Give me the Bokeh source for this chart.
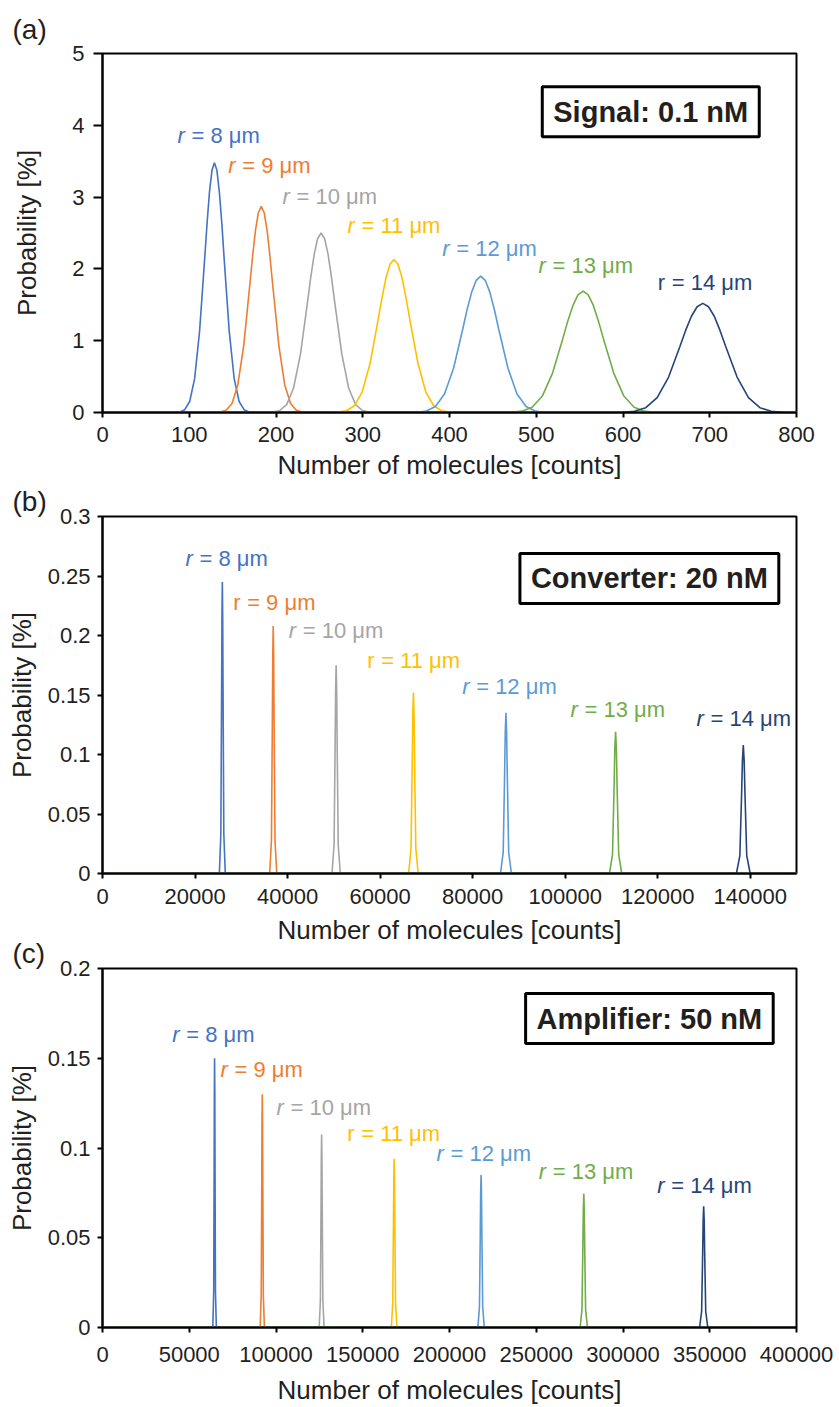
from bokeh.plotting import figure
from bokeh.layouts import column
from bokeh.models import Range1d, FixedTicker, Label
from bokeh.embed import file_html
from bokeh.resources import INLINE

FONT = "Liberation Sans"
TEXT = "#231f20"

RADII = ["8", "9", "10", "11", "12", "13", "14"]
COLORS = ["#4472C4", "#ED7D31", "#A5A5A5", "#FFC000", "#5B9BD5", "#70AD47", "#264478"]

# ---------------- Panel (a): Signal 0.1 nM ----------------
SIG_X_R8 = [10, 83.4, 89.1, 94.8, 100.5, 106.2, 111.9, 117.6, 120.5, 123.3, 126.2, 129, 131.9, 134.7, 137.6, 140.4, 146.1, 151.8, 157.5, 163.2, 168.9, 174.6, 800]
SIG_Y_R8 = [0, 0.001, 0.008, 0.039, 0.153, 0.471, 1.130, 2.111, 2.627, 3.071, 3.373, 3.48, 3.373, 3.071, 2.627, 2.111, 1.130, 0.471, 0.153, 0.039, 0.008, 0.001, 0]
SIG_X_R9 = [10, 129, 135.8, 142.5, 149.3, 156, 162.8, 169.5, 172.9, 176.3, 179.6, 183, 186.4, 189.8, 193.1, 196.5, 203.3, 210, 216.8, 223.5, 230.3, 237, 800]
SIG_Y_R9 = [0, 0.001, 0.006, 0.032, 0.126, 0.388, 0.932, 1.741, 2.166, 2.533, 2.782, 2.87, 2.782, 2.533, 2.166, 1.741, 0.932, 0.388, 0.126, 0.032, 0.006, 0.001, 0]
SIG_X_R10 = [10, 188.4, 196.4, 204.3, 212.3, 220.2, 228.2, 236.1, 240.1, 244.1, 248, 252, 256, 260, 263.9, 267.9, 275.9, 283.8, 291.8, 299.7, 307.7, 315.6, 800]
SIG_Y_R10 = [0, 0.001, 0.006, 0.028, 0.110, 0.338, 0.812, 1.516, 1.887, 2.206, 2.423, 2.50, 2.423, 2.206, 1.887, 1.516, 0.812, 0.338, 0.110, 0.028, 0.006, 0.001, 0]
SIG_X_R11 = [10, 262.8, 272, 281.1, 290.3, 299.4, 308.6, 317.7, 322.3, 326.9, 331.4, 336, 340.6, 345.2, 349.7, 354.3, 363.5, 372.6, 381.8, 390.9, 400.1, 409.2, 800]
SIG_Y_R11 = [0, 0.001, 0.005, 0.024, 0.094, 0.288, 0.692, 1.292, 1.608, 1.880, 2.064, 2.13, 2.064, 1.880, 1.608, 1.292, 0.692, 0.288, 0.094, 0.024, 0.005, 0.001, 0]
SIG_X_R12 = [10, 352.4, 362.9, 373.3, 383.8, 394.2, 404.7, 415.1, 420.3, 425.6, 430.8, 436, 441.2, 446.5, 451.7, 456.9, 467.4, 477.8, 488.3, 498.7, 509.2, 519.6, 800]
SIG_Y_R12 = [0, 0.001, 0.004, 0.021, 0.083, 0.257, 0.617, 1.152, 1.434, 1.677, 1.841, 1.90, 1.841, 1.677, 1.434, 1.152, 0.617, 0.257, 0.083, 0.021, 0.004, 0.001, 0]
SIG_X_R13 = [10, 460, 471.8, 483.5, 495.3, 507, 518.8, 530.5, 536.4, 542.3, 548.1, 554, 559.9, 565.8, 571.6, 577.5, 589.3, 601, 612.8, 624.5, 636.3, 648, 800]
SIG_Y_R13 = [0, 0.001, 0.004, 0.019, 0.074, 0.229, 0.549, 1.025, 1.276, 1.491, 1.638, 1.69, 1.638, 1.491, 1.276, 1.025, 0.549, 0.229, 0.074, 0.019, 0.004, 0.001, 0]
SIG_X_R14 = [10, 586.8, 600, 613.1, 626.3, 639.4, 652.6, 665.7, 672.3, 678.9, 685.4, 692, 698.6, 705.2, 711.7, 718.3, 731.5, 744.6, 757.8, 770.9, 784.1, 797.2, 800]
SIG_Y_R14 = [0, 0.000, 0.003, 0.017, 0.067, 0.206, 0.494, 0.922, 1.147, 1.341, 1.473, 1.52, 1.473, 1.341, 1.147, 0.922, 0.494, 0.206, 0.067, 0.017, 0.003, 0.000, 0]

SIG_X_TICKS = [0, 100, 200, 300, 400, 500, 600, 700, 800]
SIG_X_LABELS = ["0", "100", "200", "300", "400", "500", "600", "700", "800"]
SIG_Y_TICKS = [0, 1, 2, 3, 4, 5]
SIG_Y_LABELS = ["0", "1", "2", "3", "4", "5"]
SIG_LABEL_X = [86.5, 145, 207.5, 282.4, 391.6, 502.6, 640]
SIG_LABEL_Y = [3.86, 3.44, 3.01, 2.60, 2.28, 2.05, 1.81]
SIG_ITALIC = [True, True, True, True, True, True, False]

# ---------------- Panel (b): Converter 20 nM ----------------
CON_X_R8 = [0, 25256, 25578, 25739, 25820, 25900, 25980, 26061, 26222, 26544, 150000]
CON_Y_R8 = [0, 0, 0.033, 0.149, 0.216, 0.245, 0.216, 0.149, 0.033, 0, 0]
CON_X_R9 = [0, 36132, 36516, 36708, 36804, 36900, 36996, 37092, 37284, 37668, 150000]
CON_Y_R9 = [0, 0, 0.028, 0.126, 0.184, 0.208, 0.184, 0.126, 0.028, 0, 0]
CON_X_R10 = [0, 49600, 50050, 50275, 50388, 50500, 50612, 50725, 50950, 51400, 150000]
CON_Y_R10 = [0, 0, 0.024, 0.106, 0.154, 0.175, 0.154, 0.106, 0.024, 0, 0]
CON_X_R11 = [0, 66164, 66682, 66941, 67070, 67200, 67330, 67459, 67718, 68236, 150000]
CON_Y_R11 = [0, 0, 0.021, 0.092, 0.134, 0.152, 0.134, 0.092, 0.021, 0, 0]
CON_X_R12 = [0, 86020, 86610, 86905, 87052, 87200, 87348, 87495, 87790, 88380, 150000]
CON_Y_R12 = [0, 0, 0.018, 0.082, 0.119, 0.135, 0.119, 0.082, 0.018, 0, 0]
CON_X_R13 = [0, 109568, 110234, 110567, 110734, 110900, 111066, 111233, 111566, 112232, 150000]
CON_Y_R13 = [0, 0, 0.016, 0.072, 0.105, 0.119, 0.105, 0.072, 0.016, 0, 0]
CON_X_R14 = [0, 137012, 137756, 138128, 138314, 138500, 138686, 138872, 139244, 139988, 150000]
CON_Y_R14 = [0, 0, 0.015, 0.066, 0.095, 0.108, 0.095, 0.066, 0.015, 0, 0]

CON_X_TICKS = [0, 20000, 40000, 60000, 80000, 100000, 120000, 140000]
CON_X_LABELS = ["0", "20000", "40000", "60000", "80000", "100000", "120000", "140000"]
CON_Y_TICKS = [0, 0.05, 0.1, 0.15, 0.2, 0.25, 0.3]
CON_Y_LABELS = ["0", "0.05", "0.1", "0.15", "0.2", "0.25", "0.3"]
CON_LABEL_X = [17940, 28240, 40270, 57200, 77740, 101150, 128380]
CON_LABEL_Y = [0.265, 0.228, 0.204, 0.179, 0.157, 0.138, 0.130]
CON_ITALIC = [True, False, True, False, True, True, True]

# ---------------- Panel (c): Amplifier 50 nM ----------------
AMP_X_R8 = [0, 63584, 64092, 64346, 64473, 64600, 64727, 64854, 65108, 65616, 376000]
AMP_Y_R8 = [0, 0, 0.020, 0.091, 0.132, 0.150, 0.132, 0.091, 0.020, 0, 0]
AMP_X_R9 = [0, 90888, 91494, 91797, 91948, 92100, 92252, 92403, 92706, 93312, 376000]
AMP_Y_R9 = [0, 0, 0.018, 0.079, 0.115, 0.130, 0.115, 0.079, 0.018, 0, 0]
AMP_X_R10 = [0, 124880, 125590, 125945, 126122, 126300, 126478, 126655, 127010, 127720, 376000]
AMP_Y_R10 = [0, 0, 0.015, 0.065, 0.095, 0.1075, 0.095, 0.065, 0.015, 0, 0]
AMP_X_R11 = [0, 166460, 167280, 167690, 167895, 168100, 168305, 168510, 168920, 169740, 376000]
AMP_Y_R11 = [0, 0, 0.013, 0.057, 0.083, 0.094, 0.083, 0.057, 0.013, 0, 0]
AMP_X_R12 = [0, 216332, 217266, 217733, 217966, 218200, 218434, 218667, 219134, 220068, 376000]
AMP_Y_R12 = [0, 0, 0.0115, 0.0516, 0.075, 0.085, 0.075, 0.0516, 0.0115, 0, 0]
AMP_X_R13 = [0, 275296, 276348, 276874, 277137, 277400, 277663, 277926, 278452, 279504, 376000]
AMP_Y_R13 = [0, 0, 0.0101, 0.0452, 0.0658, 0.0746, 0.0658, 0.0452, 0.0101, 0, 0]
AMP_X_R14 = [0, 344148, 345324, 345912, 346206, 346500, 346794, 347088, 347676, 348852, 376000]
AMP_Y_R14 = [0, 0, 0.0091, 0.041, 0.0597, 0.0676, 0.0597, 0.041, 0.0091, 0, 0]

AMP_X_TICKS = [0, 50000, 100000, 150000, 200000, 250000, 300000, 350000, 400000]
AMP_X_LABELS = ["0", "50000", "100000", "150000", "200000", "250000", "300000", "350000", "400000"]
AMP_Y_TICKS = [0, 0.05, 0.1, 0.15, 0.2]
AMP_Y_LABELS = ["0", "0.05", "0.1", "0.15", "0.2"]
AMP_LABEL_X = [40170, 68010, 100290, 141030, 192500, 251470, 319710]
AMP_LABEL_Y = [0.163, 0.144, 0.1225, 0.108, 0.097, 0.087, 0.079]
AMP_ITALIC = [True, True, True, False, True, True, True]

X_TITLE = "Number of molecules [counts]"
Y_TITLE = "Probability [%]"

LEFT, RIGHT, FRAME_W = 102, 37, 694


def make_panel(tag, xmax, ymax, xt, xl, yt, yl, series, lx, ly, lit, box_text, bx, by,
               top, bottom, frame_h, ytick_out, ylab_so, yaxis_so, xlab_so, xaxis_so, title_so):
    p = figure(title=tag, width=LEFT + FRAME_W + RIGHT, height=top + frame_h + bottom,
               x_range=Range1d(0, xmax), y_range=Range1d(0, ymax),
               output_backend="svg", toolbar_location=None,
               min_border_left=LEFT, min_border_right=RIGHT,
               min_border_top=top, min_border_bottom=bottom)
    p.title.align = "left"
    p.title.offset = -90
    p.title.standoff = title_so
    p.title.text_font = FONT
    p.title.text_font_size = "28px"
    p.title.text_font_style = "normal"
    p.title.text_color = TEXT

    p.grid.visible = False
    p.outline_line_color = "black"
    p.outline_line_width = 2
    p.outline_line_alpha = 1
    p.background_fill_color = "white"

    for ax in (p.xaxis[0], p.yaxis[0]):
        ax.axis_line_width = 2
        ax.axis_line_color = "black"
        ax.major_tick_line_width = 2
        ax.major_tick_line_color = "black"
        ax.minor_tick_line_color = None
        ax.major_tick_in = 0
        ax.major_label_text_font = FONT
        ax.major_label_text_font_size = "22px"
        ax.major_label_text_color = TEXT
        ax.axis_label_text_font = FONT
        ax.axis_label_text_font_size = "26px"
        ax.axis_label_text_font_style = "normal"
        ax.axis_label_text_color = TEXT

    xa = p.xaxis[0]
    xa.ticker = FixedTicker(ticks=xt)
    xa.major_label_overrides = {t: s for t, s in zip(xt, xl)}
    xa.major_tick_out = 5
    xa.major_label_standoff = xlab_so
    xa.axis_label = X_TITLE
    xa.axis_label_standoff = xaxis_so

    ya = p.yaxis[0]
    ya.ticker = FixedTicker(ticks=yt)
    ya.major_label_overrides = {t: s for t, s in zip(yt, yl)}
    ya.major_tick_out = ytick_out
    ya.major_label_standoff = ylab_so
    ya.axis_label = Y_TITLE
    ya.axis_label_standoff = yaxis_so

    for (xs, ys), c in zip(series, COLORS):
        p.line(xs, ys, line_color=c, line_width=1.6)

    for i in range(len(RADII)):
        p.add_layout(Label(x=lx[i], y=ly[i], text="r", text_font=FONT, text_font_size="22px",
                           text_font_style="italic" if lit[i] else "normal",
                           text_color=COLORS[i], text_align="left", text_baseline="middle"))
        p.add_layout(Label(x=lx[i], y=ly[i], x_offset=14, text="= " + RADII[i] + " μm",
                           text_font=FONT, text_font_size="22px", text_color=COLORS[i],
                           text_align="left", text_baseline="middle"))

    p.add_layout(Label(x=bx, y=by, text=box_text, text_font=FONT, text_font_size="29px",
                       text_font_style="bold", text_color=TEXT, text_align="center",
                       text_baseline="middle", border_line_color="black", border_line_width=3,
                       background_fill_color="white",
                       padding=dict(left=11, right=11, top=9, bottom=9)))
    return p


pa = make_panel("(a)", 800, 5, SIG_X_TICKS, SIG_X_LABELS, SIG_Y_TICKS, SIG_Y_LABELS,
                [(SIG_X_R8, SIG_Y_R8), (SIG_X_R9, SIG_Y_R9), (SIG_X_R10, SIG_Y_R10),
                 (SIG_X_R11, SIG_Y_R11), (SIG_X_R12, SIG_Y_R12), (SIG_X_R13, SIG_Y_R13),
                 (SIG_X_R14, SIG_Y_R14)],
                SIG_LABEL_X, SIG_LABEL_Y, SIG_ITALIC, "Signal: 0.1 nM", 632, 4.187,
                top=53, bottom=71, frame_h=359, ytick_out=9, ylab_so=9, yaxis_so=27,
                xlab_so=9, xaxis_so=5, title_so=17)

pb = make_panel("(b)", 150000, 0.3, CON_X_TICKS, CON_X_LABELS, CON_Y_TICKS, CON_Y_LABELS,
                [(CON_X_R8, CON_Y_R8), (CON_X_R9, CON_Y_R9), (CON_X_R10, CON_Y_R10),
                 (CON_X_R11, CON_Y_R11), (CON_X_R12, CON_Y_R12), (CON_X_R13, CON_Y_R13),
                 (CON_X_R14, CON_Y_R14)],
                CON_LABEL_X, CON_LABEL_Y, CON_ITALIC, "Converter: 20 nM", 118200, 0.248,
                top=33, bottom=75, frame_h=357, ytick_out=5, ylab_so=7, yaxis_so=8,
                xlab_so=10, xaxis_so=8, title_so=0)

pc = make_panel("(c)", 400000, 0.2, AMP_X_TICKS, AMP_X_LABELS, AMP_Y_TICKS, AMP_Y_LABELS,
                [(AMP_X_R8, AMP_Y_R8), (AMP_X_R9, AMP_Y_R9), (AMP_X_R10, AMP_Y_R10),
                 (AMP_X_R11, AMP_Y_R11), (AMP_X_R12, AMP_Y_R12), (AMP_X_R13, AMP_Y_R13),
                 (AMP_X_R14, AMP_Y_R14)],
                AMP_LABEL_X, AMP_LABEL_Y, AMP_ITALIC, "Amplifier: 50 nM", 315220, 0.1721,
                top=33, bottom=80, frame_h=359, ytick_out=5, ylab_so=7, yaxis_so=8,
                xlab_so=14, xaxis_so=10, title_so=0)
pc.border_fill_color = None
pc.margin = (-13, 0, 0, 0)

layout = column(pa, pb, pc)
open("out.html", "w").write(file_html(layout, INLINE))
